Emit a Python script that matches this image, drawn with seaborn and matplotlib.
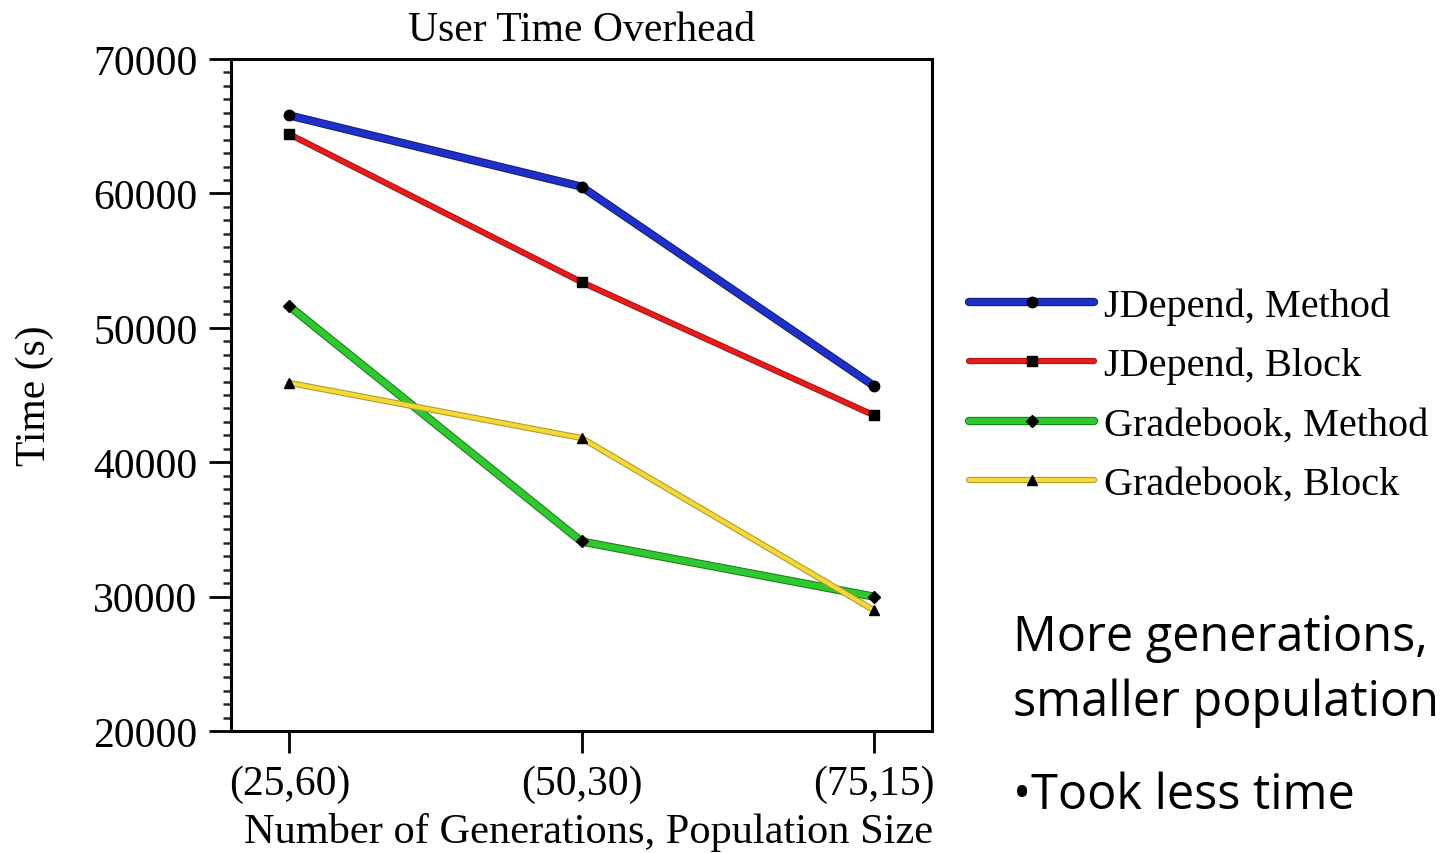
import matplotlib
matplotlib.use("Agg")
import matplotlib.pyplot as plt
import matplotlib.patheffects as pe
from matplotlib.lines import Line2D
from matplotlib.legend_handler import HandlerTuple
from matplotlib.ticker import MultipleLocator
import seaborn as sns
import pandas as pd

# data
configs = ["(25,60)", "(50,30)", "(75,15)"]
jdepend_method = [65800, 60500, 45700]
jdepend_block = [64400, 53400, 43500]
gradebook_method = [51600, 34100, 30000]
gradebook_block = [45900, 41800, 29000]

series_names = ["JDepend, Method", "JDepend, Block", "Gradebook, Method", "Gradebook, Block"]
series_values = [jdepend_method, jdepend_block, gradebook_method, gradebook_block]

rows = []
for name, vals in zip(series_names, series_values):
    for i, v in enumerate(vals):
        rows.append({"pos": i, "time": v, "series": name})
df = pd.DataFrame(rows)

palette = {"JDepend, Method": "#1f30c8", "JDepend, Block": "#e41c1c",
           "Gradebook, Method": "#30c830", "Gradebook, Block": "#f2d83a"}
edges = {"JDepend, Method": "#141e78", "JDepend, Block": "#b01414",
         "Gradebook, Method": "#168016", "Gradebook, Block": "#b09a20"}
widths = {"JDepend, Method": 4.5, "JDepend, Block": 3,
          "Gradebook, Method": 4.5, "Gradebook, Block": 3}
markers = {"JDepend, Method": "o", "JDepend, Block": "s",
           "Gradebook, Method": "D", "Gradebook, Block": "^"}
msize = {"JDepend, Method": 7.5, "JDepend, Block": 7,
         "Gradebook, Method": 6.5, "Gradebook, Block": 7.5}

sns.set_theme(style="white")
plt.rcParams["font.family"] = ["Liberation Serif", "DejaVu Serif"]
plt.rcParams["text.color"] = "black"
plt.rcParams["axes.labelcolor"] = "black"

fig = plt.figure(figsize=(14.54, 8.54), dpi=100)
ax = fig.add_axes([231 / 1454, 1 - 732 / 854, 701 / 1454, 672 / 854])

sns.lineplot(data=df, x="pos", y="time", hue="series",
             palette=palette, legend=False, hue_order=series_names, ax=ax)

handles = []
for line, name in list(zip(ax.lines, series_names)):
    stroke = [pe.Stroke(linewidth=widths[name] + 1.5, foreground=edges[name]), pe.Normal()]
    line.set_linewidth(widths[name])
    line.set_path_effects(stroke)
    x, y = line.get_data()
    ax.plot(x, y, ls="", marker=markers[name], ms=msize[name],
            mfc="black", mec="black", zorder=line.get_zorder() + 1)
    h_line = Line2D([], [], color=palette[name], lw=widths[name], path_effects=stroke)
    h_mark = Line2D([], [], ls="", marker=markers[name], ms=msize[name], mfc="black", mec="black")
    handles.append((h_line, h_mark))

ax.set_xlim(-0.2, 2.2)
ax.set_ylim(20000, 70000)
ax.set_xticks(range(len(configs)))
ax.set_xticklabels(configs)
ax.yaxis.set_major_locator(MultipleLocator(10000))
ax.yaxis.set_minor_locator(MultipleLocator(1000))
ax.tick_params(axis="both", which="major", direction="out", length=16, width=2,
               labelsize=30, colors="black", left=True, bottom=True, pad=8)
ax.tick_params(axis="y", which="minor", direction="out", length=6, width=1.8, left=True)
for sp in ax.spines.values():
    sp.set_linewidth(2.2)
    sp.set_color("black")

ax.set_title("User Time Overhead", fontsize=30, pad=14)
ax.set_xlabel("Number of Generations, Population Size", fontsize=30.5)
ax.set_ylabel("Time (s)", fontsize=30)
ax.xaxis.set_label_coords(0.51, -0.12)
ax.yaxis.set_label_coords(-0.2525, 0.5)

fig.legend(handles=handles, labels=series_names, loc="upper left",
           bbox_to_anchor=(953 / 1454, 1 - 272 / 854), frameon=False,
           fontsize=29, handlelength=3.1, numpoints=1, labelspacing=0.55,
           handletextpad=0.25, borderaxespad=0,
           handler_map={tuple: HandlerTuple(ndivide=1, pad=0)})

side_lines = ["More generations,", "smaller population"]
side_bullet = "\u2022Took less time"
fig.text(1013 / 1454, 1 - 651 / 854, side_lines[0], fontsize=35, family="Open Sans",
         color="black", va="baseline", ha="left")
fig.text(1013 / 1454, 1 - 716 / 854, side_lines[1], fontsize=35, family="Open Sans",
         color="black", va="baseline", ha="left")
fig.text(1013 / 1454, 1 - 809 / 854, side_bullet, fontsize=35, family="Open Sans",
         color="black", va="baseline", ha="left")

fig.savefig("out.png", dpi=100)
